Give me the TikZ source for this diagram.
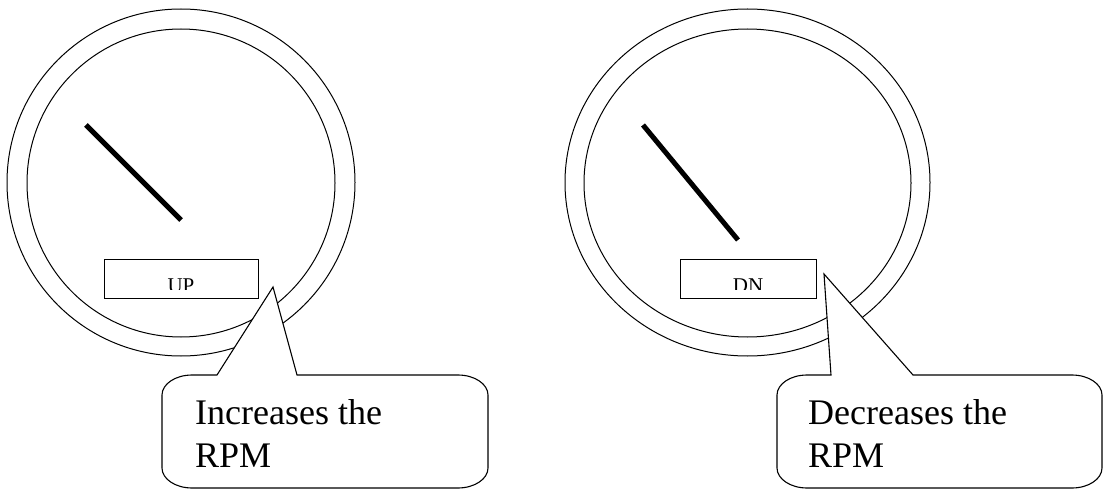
\documentclass[tikz,border=0pt]{standalone}
\usepackage{fontspec}
\setmainfont{Liberation Serif}
\usetikzlibrary{shapes.geometric}
\begin{document}
\begin{tikzpicture}[x=1pt,y=-1pt,
  ring/.style={draw=black, line width=1pt, ellipse, inner sep=0pt},
  needle/.style={draw=black, line width=5pt},
  btnbox/.style={draw=black, line width=1pt, inner sep=0pt, minimum height=38pt},
  callout/.style={draw=black, line width=1.1pt, fill=white, line join=miter},
  bigtxt/.style={font=\fontsize{36}{44}\selectfont, inner sep=0pt, anchor=base west},
  btntxt/.style={font=\fontsize{21}{24}\selectfont, inner sep=0pt, anchor=base}]
\useasboundingbox (0,0) rectangle (1106,489);
% left gauge
\node[ring, minimum width=348pt, minimum height=347pt] (g1o) at (181,182.5) {};
\node[ring, minimum width=308pt, minimum height=308pt] (g1i) at (181,183) {};
\coordinate (n1a) at (86,125);
\coordinate (n1b) at (181,220);
\draw[needle] (n1a) -- (n1b);
\node[btnbox, minimum width=154pt] (up) at (181,279) {};
\begin{scope}
\clip (104,261) rectangle (258,289);
\node[btntxt] (uptxt) at (181,292) {UP};
\end{scope}
% right gauge
\node[ring, minimum width=365pt, minimum height=347pt] (g2o) at (747.5,182.5) {};
\node[ring, minimum width=327pt, minimum height=308pt] (g2i) at (747.5,183) {};
\coordinate (n2a) at (643,125);
\coordinate (n2b) at (738,240);
\draw[needle] (n2a) -- (n2b);
\node[btnbox, minimum width=136pt] (dn) at (748,279) {};
\begin{scope}
\clip (680,261) rectangle (816,289);
\node[btntxt] (dntxt) at (748,292) {DN};
\end{scope}
% left callout
\coordinate (t1) at (273,287);
\draw[callout] (217,375) -- (t1) -- (297,375) -- (458,375)
  .. controls (474.5,375) and (488,384) .. (488,395) -- (488,468)
  .. controls (488,479) and (474.5,488) .. (458,488) -- (192,488)
  .. controls (175.5,488) and (162,479) .. (162,468) -- (162,395)
  .. controls (162,384) and (175.5,375) .. (192,375) -- cycle;
\node[bigtxt] (c1a) at (195,424) {Increases the};
\node[bigtxt] (c1b) at (195,467) {RPM};
% right callout
\coordinate (t2) at (824,274);
\draw[callout] (831,375) -- (t2) -- (913,375) -- (1072,375)
  .. controls (1088.5,375) and (1102,384) .. (1102,395) -- (1102,468)
  .. controls (1102,479) and (1088.5,488) .. (1072,488) -- (807,488)
  .. controls (790.5,488) and (777,479) .. (777,468) -- (777,395)
  .. controls (777,384) and (790.5,375) .. (807,375) -- cycle;
\node[bigtxt] (c2a) at (808,424) {Decreases the};
\node[bigtxt] (c2b) at (808,467) {RPM};
\end{tikzpicture}
\end{document}
